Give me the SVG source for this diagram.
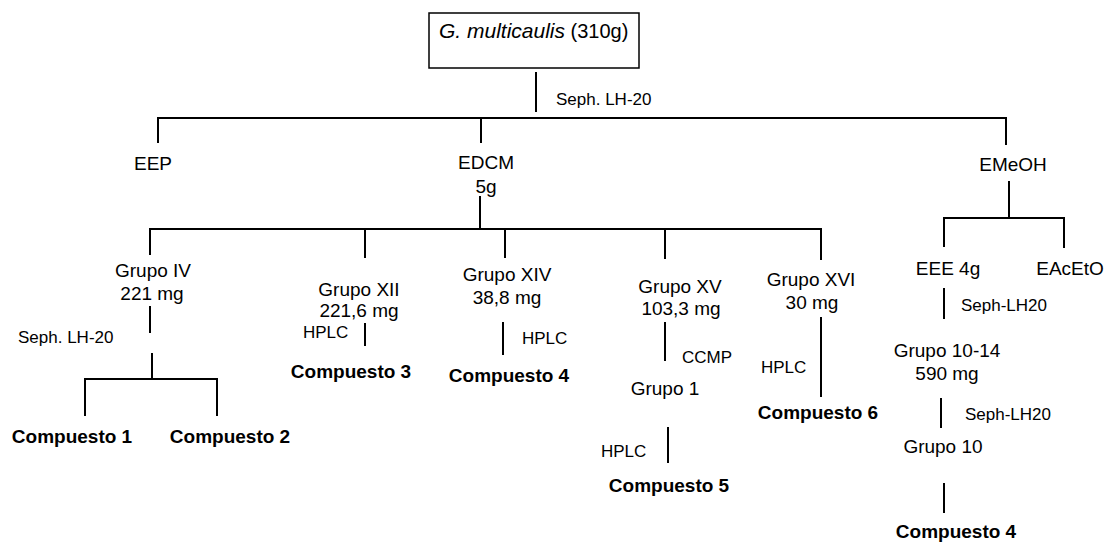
<svg xmlns="http://www.w3.org/2000/svg" width="1105" height="542" viewBox="0 0 1105 542">
<style>
text{font-family:"Liberation Sans",Arial,sans-serif;fill:#000}
.n{font-size:19px;text-anchor:middle}
.s{font-size:17px}
.b{font-size:19px;font-weight:bold;text-anchor:middle}
.c line{stroke:#000;stroke-width:2}
</style>
<rect width="1105" height="542" fill="#fff"/>
<g id="root">
<rect x="429" y="13" width="210" height="55" fill="#fff" stroke="#000" stroke-width="1.5"/>
<text x="439" y="38" font-size="21"><tspan font-style="italic">G. multicaulis</tspan><tspan font-size="20"> (310g)</tspan></text>
</g>
<g class="c" id="connectors">
<line x1="536" y1="72" x2="536" y2="112"/>
<line x1="157" y1="118" x2="1007" y2="118"/>
<line x1="158" y1="118" x2="158" y2="143"/>
<line x1="481" y1="118" x2="481" y2="143"/>
<line x1="1006" y1="118" x2="1006" y2="145"/>
<line x1="480" y1="196" x2="480" y2="228"/>
<line x1="149" y1="229" x2="822" y2="229"/>
<line x1="150" y1="229" x2="150" y2="255"/>
<line x1="365" y1="229" x2="365" y2="258"/>
<line x1="505" y1="229" x2="505" y2="258"/>
<line x1="665" y1="229" x2="665" y2="259"/>
<line x1="821" y1="229" x2="821" y2="260"/>
<line x1="150" y1="306" x2="150" y2="333"/>
<line x1="152" y1="353" x2="152" y2="379"/>
<line x1="84" y1="379" x2="218" y2="379"/>
<line x1="85" y1="379" x2="85" y2="416"/>
<line x1="217" y1="379" x2="217" y2="416"/>
<line x1="365" y1="323" x2="365" y2="346"/>
<line x1="503" y1="322" x2="503" y2="355"/>
<line x1="665" y1="322" x2="665" y2="361"/>
<line x1="668" y1="427" x2="668" y2="463"/>
<line x1="821" y1="317" x2="821" y2="397"/>
<line x1="1009" y1="181" x2="1009" y2="218"/>
<line x1="943" y1="218" x2="1065" y2="218"/>
<line x1="944" y1="218" x2="944" y2="247"/>
<line x1="1064" y1="218" x2="1064" y2="248"/>
<line x1="944" y1="288" x2="944" y2="319"/>
<line x1="941" y1="398" x2="941" y2="428"/>
<line x1="944" y1="483" x2="944" y2="513"/>
</g>
<g id="labels">
<text class="s" x="556" y="105">Seph. LH-20</text>
<text class="s" x="18" y="343">Seph. LH-20</text>
<text class="s" x="303" y="338">HPLC</text>
<text class="s" x="522" y="344">HPLC</text>
<text class="s" x="682" y="363">CCMP</text>
<text class="s" x="601" y="457">HPLC</text>
<text class="s" x="761" y="373">HPLC</text>
<text class="s" x="961" y="311">Seph-LH20</text>
<text class="s" x="965" y="420">Seph-LH20</text>
</g>
<g id="eep"><text class="n" x="153" y="170">EEP</text></g>
<g id="edcm"><text class="n" x="486" y="169">EDCM</text><text class="n" x="486" y="193">5g</text></g>
<g id="emeoh"><text class="n" x="1013" y="171">EMeOH</text></g>
<g id="grupo-iv"><text class="n" x="153" y="277">Grupo IV</text><text class="n" x="152" y="300">221 mg</text></g>
<g id="grupo-xii"><text class="n" x="359" y="296">Grupo XII</text><text class="n" x="359" y="317">221,6 mg</text></g>
<g id="grupo-xiv"><text class="n" x="507" y="281">Grupo XIV</text><text class="n" x="507" y="304">38,8 mg</text></g>
<g id="grupo-xv"><text class="n" x="680" y="293">Grupo XV</text><text class="n" x="681" y="315">103,3 mg</text></g>
<g id="grupo-xvi"><text class="n" x="811" y="286">Grupo XVI</text><text class="n" x="812" y="309">30 mg</text></g>
<g id="eee"><text class="n" x="948" y="275">EEE 4g</text></g>
<g id="eaceto"><text class="n" x="1070" y="275">EAcEtO</text></g>
<g id="grupo-10-14"><text class="n" x="947" y="357">Grupo 10-14</text><text class="n" x="947" y="380">590 mg</text></g>
<g id="grupo-10"><text class="n" x="943" y="453">Grupo 10</text></g>
<g id="grupo-1"><text class="n" x="665" y="395">Grupo 1</text></g>
<g id="compuesto-1"><text class="b" x="72" y="443">Compuesto 1</text></g>
<g id="compuesto-2"><text class="b" x="230" y="443">Compuesto 2</text></g>
<g id="compuesto-3"><text class="b" x="351" y="378">Compuesto 3</text></g>
<g id="compuesto-4a"><text class="b" x="509" y="382">Compuesto 4</text></g>
<g id="compuesto-5"><text class="b" x="669" y="492">Compuesto 5</text></g>
<g id="compuesto-6"><text class="b" x="818" y="419">Compuesto 6</text></g>
<g id="compuesto-4b"><text class="b" x="956" y="538">Compuesto 4</text></g>
</svg>
